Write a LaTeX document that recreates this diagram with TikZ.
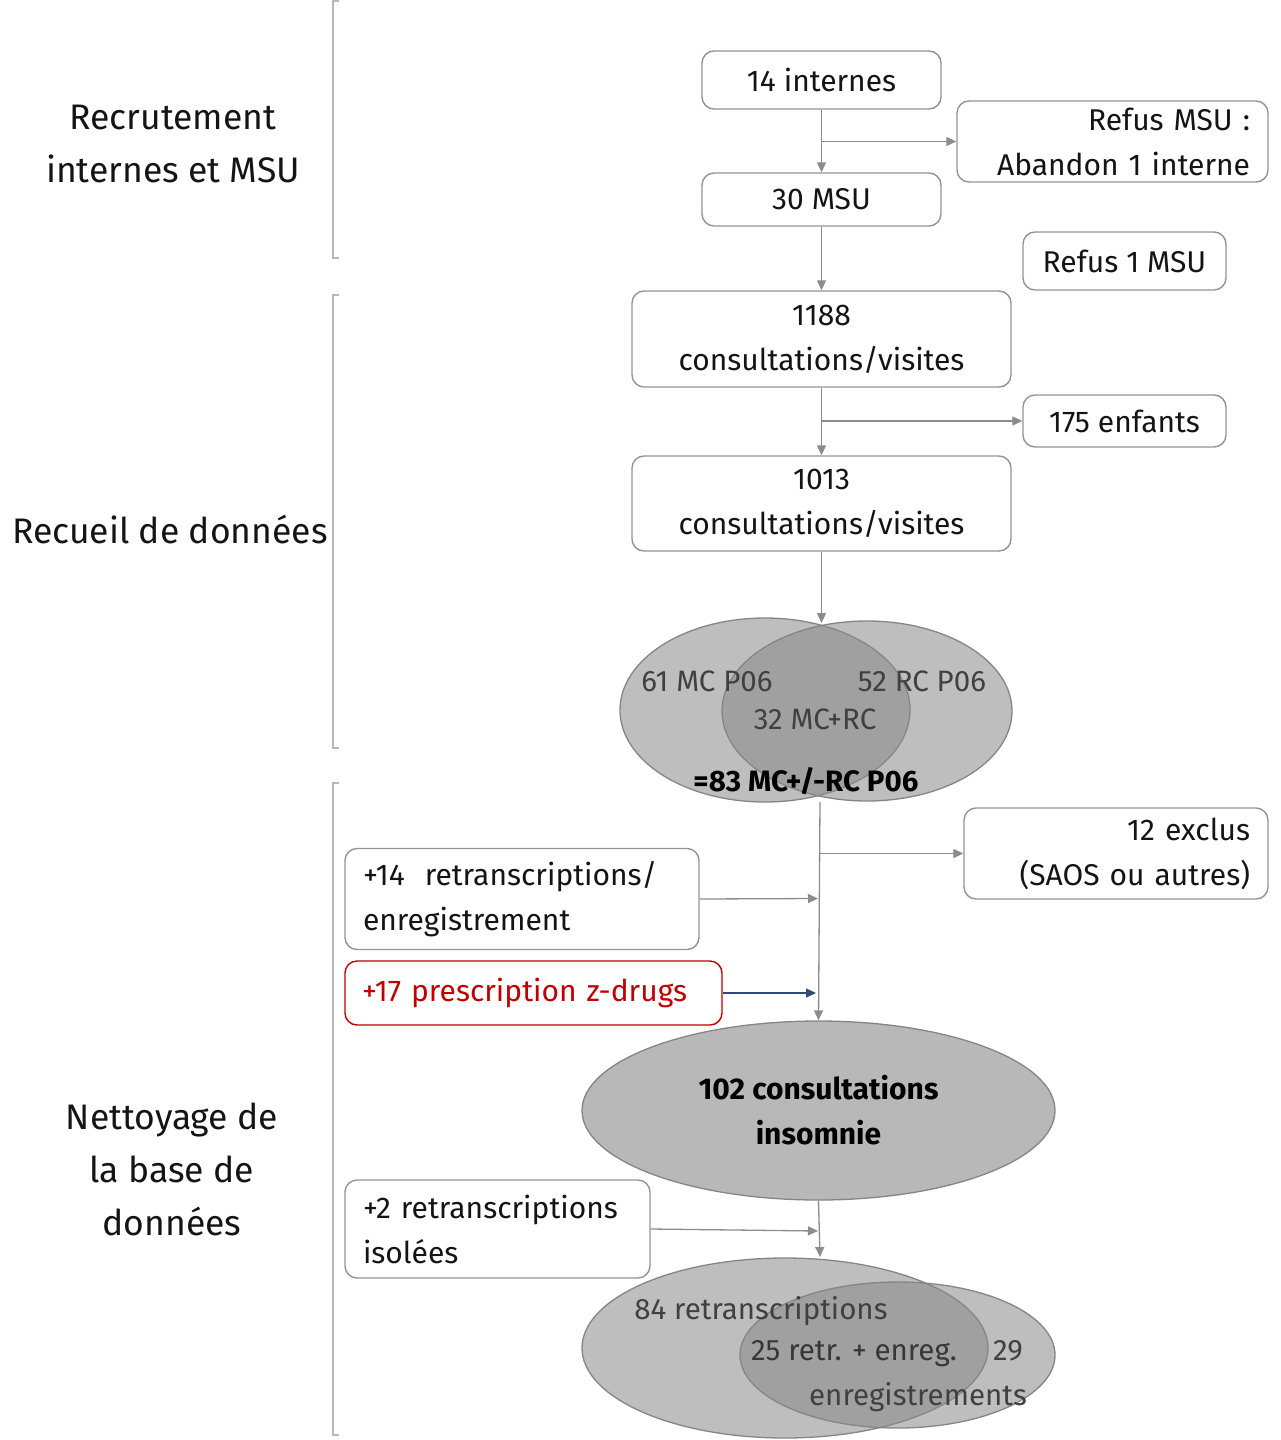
\documentclass[tikz,border=0pt]{standalone}
\usepackage{fontspec}
\setmainfont{Fira Sans}
\usetikzlibrary{shapes.geometric,arrows.meta}
\definecolor{boxc}{HTML}{949494}
\definecolor{linec}{HTML}{8C8C8C}
\definecolor{brkc}{HTML}{B8B8B8}
\definecolor{txtc}{HTML}{141414}
\definecolor{venntxt}{HTML}{404040}
\definecolor{redc}{HTML}{C00000}
\definecolor{navyc}{HTML}{2E4A7A}
\definecolor{vennfill}{HTML}{878787}
\definecolor{vennedge}{HTML}{858585}
\definecolor{bigfill}{HTML}{B8B8B8}
\newcommand{\fsz}[2]{\fontsize{#1}{#2}\selectfont}
\begin{document}
\begin{tikzpicture}[x=1pt,y=-1pt,
  box/.style={draw=boxc, rounded corners=12pt, line width=1.4pt, fill=white, inner sep=0pt,
    font=\fsz{30}{45}, text=txtc},
  arr/.style={draw=linec, line width=1.3pt, -{Triangle[length=10pt,width=9pt]}},
  brk/.style={draw=brkc, line width=1.4pt},
  sect/.style={font=\fsz{35.5}{53}, text=txtc, align=center, inner sep=0pt},
  venn/.style={ellipse, fill=vennfill, fill opacity=0.54, draw=vennedge, draw opacity=1, line width=1.3pt, inner sep=0pt},
  vtxt/.style={font=\fsz{29.5}{40}, text=venntxt, inner sep=0pt}
]
\useasboundingbox (0,0) rectangle (1281,1440);

% brackets
\draw[brk] (339,1) -- (333,1) -- (333,258) -- (339,258);
\draw[brk] (339,295) -- (333,295) -- (333,748) -- (339,748);
\draw[brk] (339,783) -- (333,783) -- (333,1435) -- (339,1435);

% section labels
\node[sect] (s1) at (173,144) {Recrutement\\internes et MSU};
\node[sect] (s2) at (170,529) {Recueil de données};
\node[sect] (s3) at (172,1169) {Nettoyage de\\la base de\\données};

% boxes
\node[box, minimum width=239pt, minimum height=58pt] (A) at (821.5,80) {14 internes};
\node[box, minimum width=311pt, minimum height=81pt, text width=275pt, align=right] (B) at (1112.5,141.5) {Refus MSU :\\Abandon 1 interne};
\node[box, minimum width=239pt, minimum height=53pt] (C) at (821.5,199.5) {30 MSU};
\node[box, minimum width=203pt, minimum height=58pt] (D) at (1124.5,261) {Refus 1 MSU};
\node[box, minimum width=379pt, minimum height=96pt, align=center] (E) at (821.5,339) {1188\\consultations/visites};
\node[box, minimum width=203pt, minimum height=52pt] (F) at (1124.5,421) {175 enfants};
\node[box, minimum width=379pt, minimum height=95pt, align=center] (G) at (821.5,503.5) {1013\\consultations/visites};

% Venn 1
\node[venn, minimum width=290pt, minimum height=184pt] (V1L) at (765,710) {};
\node[venn, minimum width=290pt, minimum height=180pt] (V1R) at (867,711) {};
\node[vtxt] (t61) at (707,681) {61 MC P06};
\node[vtxt] (t52) at (922,681) {52 RC P06};
\node[vtxt] (t32) at (815,719) {32 MC+RC};
\node[font=\fsz{29.5}{40}\bfseries, text=black, inner sep=0pt] (t83) at (806,781) {=83 MC+/-RC P06};

\node[box, minimum width=304pt, minimum height=91pt, text width=268pt, align=right] (H) at (1116,853.5) {12 exclus\\(SAOS ou autres)};
\node[box, minimum width=354pt, minimum height=101pt, text width=318pt, align=left] (I) at (522,899) {+14\ \ retranscriptions/\\enregistrement};
\node[box, draw=redc, text=redc, minimum width=377pt, minimum height=64pt, text width=343pt, align=left] (J) at (533.5,993) {+17 prescription z-drugs};

% big ellipse
\node[ellipse, fill=bigfill, draw=vennedge, line width=1.3pt, minimum width=473pt, minimum height=179pt, inner sep=0pt,
  font=\fsz{30}{45}\bfseries, text=black, align=center] (K) at (818.5,1110.5) {102 consultations\\insomnie};

\node[box, minimum width=305pt, minimum height=98pt, text width=269pt, align=left] (L) at (497.5,1229) {+2 retranscriptions\\isolées};

% Venn 2
\node[venn, minimum width=406pt, minimum height=180pt] (V2L) at (785,1348) {};
\node[venn, minimum width=315pt, minimum height=146pt] (V2R) at (897.5,1355) {};
\node[vtxt] (t84) at (761,1311) {84 retranscriptions};
\node[vtxt, text=txtc!85!white] (t25) at (854,1354) {25 retr. + enreg.};
\node[vtxt] (t29) at (1008,1351) {29};
\node[vtxt] (ten) at (918,1397) {enregistrements};

% connector coordinates
\coordinate (b1) at (821.5,141.5);
\coordinate (b2) at (821.5,421);
\coordinate (v1top) at (821.5,623);
\coordinate (v1bot) at (820,802);
\coordinate (b3) at (820,853.5);
\coordinate (m1) at (818,898.5);
\coordinate (m2) at (816,993);
\coordinate (v2top) at (820,1257);
\coordinate (m3) at (818,1231);

% connectors
\draw[arr] (A) -- (C);
\draw[arr] (b1) -- (B.west);
\draw[arr] (C) -- (E);
\draw[arr] (E) -- (G);
\draw[arr] (b2) -- (F.west);
\draw[arr] (G) -- (v1top);
\draw[arr] (v1bot) -- (K.north);
\draw[arr] (b3) -- (H.west);
\draw[arr] (I.east) -- (m1);
\draw[arr, draw=navyc] (J.east) -- (m2);
\draw[arr] (K.south) -- (v2top);
\draw[arr] (L.east) -- (m3);
\end{tikzpicture}
\end{document}
